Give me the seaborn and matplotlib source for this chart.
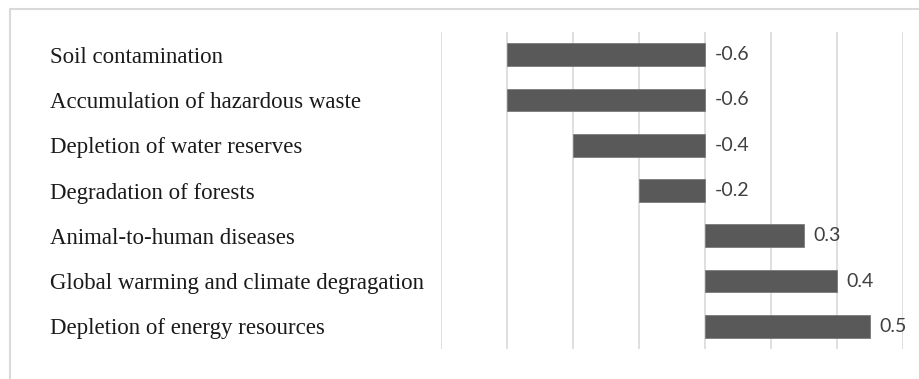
import matplotlib
matplotlib.use("Agg")
import matplotlib.pyplot as plt
import matplotlib.patches as mpatches
import seaborn as sns
import pandas as pd

categories = [
    "Soil contamination",
    "Accumulation of hazardous waste",
    "Depletion of water reserves",
    "Degradation of forests",
    "Animal-to-human diseases",
    "Global warming and climate degragation",
    "Depletion of energy resources",
]
values = [-0.6, -0.6, -0.4, -0.2, 0.3, 0.4, 0.5]
value_labels = ["-0.6", "-0.6", "-0.4", "-0.2", "0.3", "0.4", "0.5"]
x_ticks = [-0.8, -0.6, -0.4, -0.2, 0.0, 0.2, 0.4, 0.6]

df = pd.DataFrame({"category": categories, "value": values})

sns.set_theme(style="white")
W, H = 919, 379
fig = plt.figure(figsize=(W / 100, H / 100), dpi=100)
ax = fig.add_axes([441 / W, 1 - 349 / H, (903 - 441) / W, (349 - 32) / H])

sns.barplot(data=df, x="value", y="category", orient="h", color="#595959",
            saturation=1, width=0.5, edgecolor="#7a7a7a", linewidth=0.6, ax=ax)

ax.set_xlim(-0.8, 0.6)
ax.set_xticks(x_ticks)
ax.grid(axis="x", color="#d9d9d9", linewidth=1.2)
ax.set_axisbelow(True)
for s in ax.spines.values():
    s.set_visible(False)
ax.tick_params(axis="x", bottom=False, labelbottom=False)
ax.tick_params(axis="y", left=False, length=0, pad=(441 - 50) * 0.72)
ax.set_xlabel("")
ax.set_ylabel("")
for lab in ax.get_yticklabels():
    lab.set_ha("left")
    lab.set_fontfamily("Liberation Serif")
    lab.set_fontsize(16.5)
    lab.set_color("#1a1a1a")

for i, (v, t) in enumerate(zip(values, value_labels)):
    xpos = max(v, 0)
    ax.annotate(t, xy=(xpos, i), xytext=(7, 0), textcoords="offset points",
                ha="left", va="center", fontsize=14, color="#404040",
                family="Lato")

# light frame on top and left
fig.patches.append(mpatches.Rectangle((9.5 / W, -0.05), 1.1, 1 - 8.5 / H + 0.05,
                                      transform=fig.transFigure, fill=False,
                                      edgecolor="#d9d9d9", linewidth=1.5))

fig.savefig("out.png", dpi=100)
